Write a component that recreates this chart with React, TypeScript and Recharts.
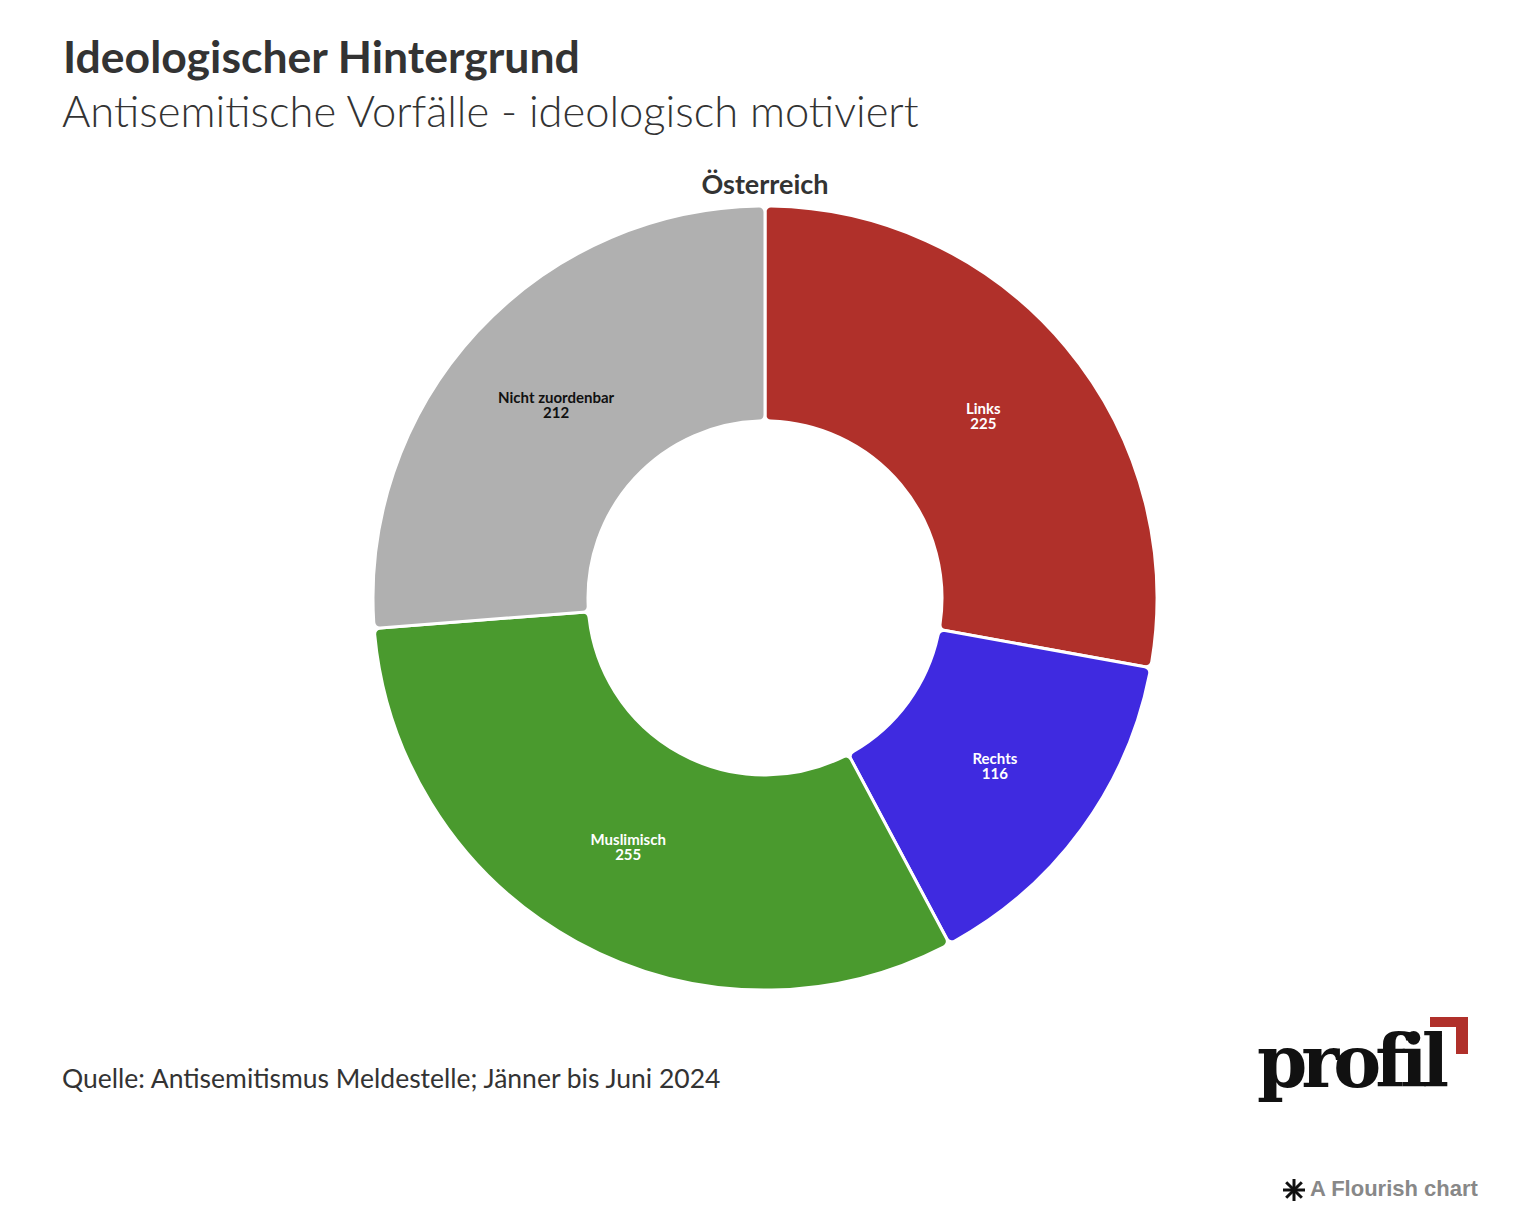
import React from "react";
import { PieChart, Pie, Cell } from "recharts";

const categories = ["Links", "Rechts", "Muslimisch", "Nicht zuordenbar"];
const values = [225, 116, 255, 212];
const colors = ["#b0302a", "#3f2ae0", "#4a9a2e", "#b0b0b0"];
const labelColors = ["#ffffff", "#ffffff", "#ffffff", "#111111"];

const data = categories.map((name, i) => ({ name, value: values[i] }));

const FONT = "Lato, 'Noto Sans', sans-serif";
const RAD = Math.PI / 180;

const renderLabel = (props: any) => {
  const { cx, cy, midAngle, innerRadius, outerRadius, index, name, value } = props;
  const r = (innerRadius + outerRadius) / 2;
  const x = cx + r * Math.cos(-midAngle * RAD);
  const y = cy + r * Math.sin(-midAngle * RAD);
  return (
    <text
      x={x}
      y={y}
      textAnchor="middle"
      fill={labelColors[index]}
      fontFamily={FONT}
      fontWeight={700}
      fontSize={15}
    >
      <tspan x={x} dy={-2}>{name}</tspan>
      <tspan x={x} dy={15}>{value}</tspan>
    </text>
  );
};

export default function App() {
  return (
    <div
      style={{
        position: "absolute",
        left: 0,
        top: 0,
        width: 1526,
        height: 1232,
        background: "#fff",
        fontFamily: FONT,
        color: "#333",
      }}
    >
      <div style={{ position: "absolute", left: 63, top: 28, fontSize: 44.5, fontWeight: 700, whiteSpace: "nowrap", lineHeight: "56px" }}>
        Ideologischer Hintergrund
      </div>
      <div style={{ position: "absolute", left: 62, top: 82, fontSize: 43.5, fontWeight: 300, whiteSpace: "nowrap", lineHeight: "56px" }}>
        Antisemitische Vorfälle - ideologisch motiviert
      </div>
      <div
        style={{
          position: "absolute",
          left: 615,
          width: 300,
          top: 166,
          textAlign: "center",
          fontSize: 27,
          fontWeight: 700,
          lineHeight: "36px",
        }}
      >
        Österreich
      </div>
      <div style={{ position: "absolute", left: 0, top: 0 }}>
        <PieChart width={1526} height={1232} margin={{ top: 0, right: 0, bottom: 0, left: 0 }}>
          <Pie
            data={data}
            dataKey="value"
            nameKey="name"
            cx={765}
            cy={598}
            innerRadius={177}
            outerRadius={392}
            startAngle={90}
            endAngle={-270}
            stroke="#ffffff"
            strokeWidth={3}
            cornerRadius={6}
            labelLine={false}
            label={renderLabel}
            isAnimationActive={false}
          >
            {data.map((d, i) => (
              <Cell key={d.name} fill={colors[i]} />
            ))}
          </Pie>
        </PieChart>
      </div>
      <div style={{ position: "absolute", left: 62, top: 1060, fontSize: 26.5, fontWeight: 400, whiteSpace: "nowrap", lineHeight: "36px" }}>
        Quelle: Antisemitismus Meldestelle; Jänner bis Juni 2024
      </div>
      {/* profil logo */}
      <div
        style={{
          position: "absolute",
          left: 1257,
          top: 1020,
          fontFamily: "'DejaVu Serif', serif",
          fontWeight: 700,
          fontSize: 72,
          letterSpacing: -6,
          color: "#111",
          lineHeight: "84px",
          whiteSpace: "nowrap",
        }}
      >
        profil
      </div>
      <div style={{ position: "absolute", left: 1430, top: 1017, width: 38, height: 10, background: "#b0302a" }} />
      <div style={{ position: "absolute", left: 1456, top: 1017, width: 12, height: 37, background: "#b0302a" }} />
      <svg style={{ position: "absolute", left: 1282, top: 1178 }} width={24} height={24} viewBox="0 0 24 24">
        <g stroke="#111" strokeWidth={3} strokeLinecap="butt">
          <line x1={12} y1={1} x2={12} y2={23} />
          <line x1={1} y1={12} x2={23} y2={12} />
          <line x1={4.2} y1={4.2} x2={19.8} y2={19.8} />
          <line x1={19.8} y1={4.2} x2={4.2} y2={19.8} />
        </g>
      </svg>
      <div
        style={{
          position: "absolute",
          left: 1310,
          top: 1175,
          fontFamily: "'Liberation Sans', Arial, sans-serif",
          fontWeight: 700,
          fontSize: 22,
          color: "#888",
          whiteSpace: "nowrap",
          lineHeight: "28px",
        }}
      >
        A Flourish chart
      </div>
    </div>
  );
}
